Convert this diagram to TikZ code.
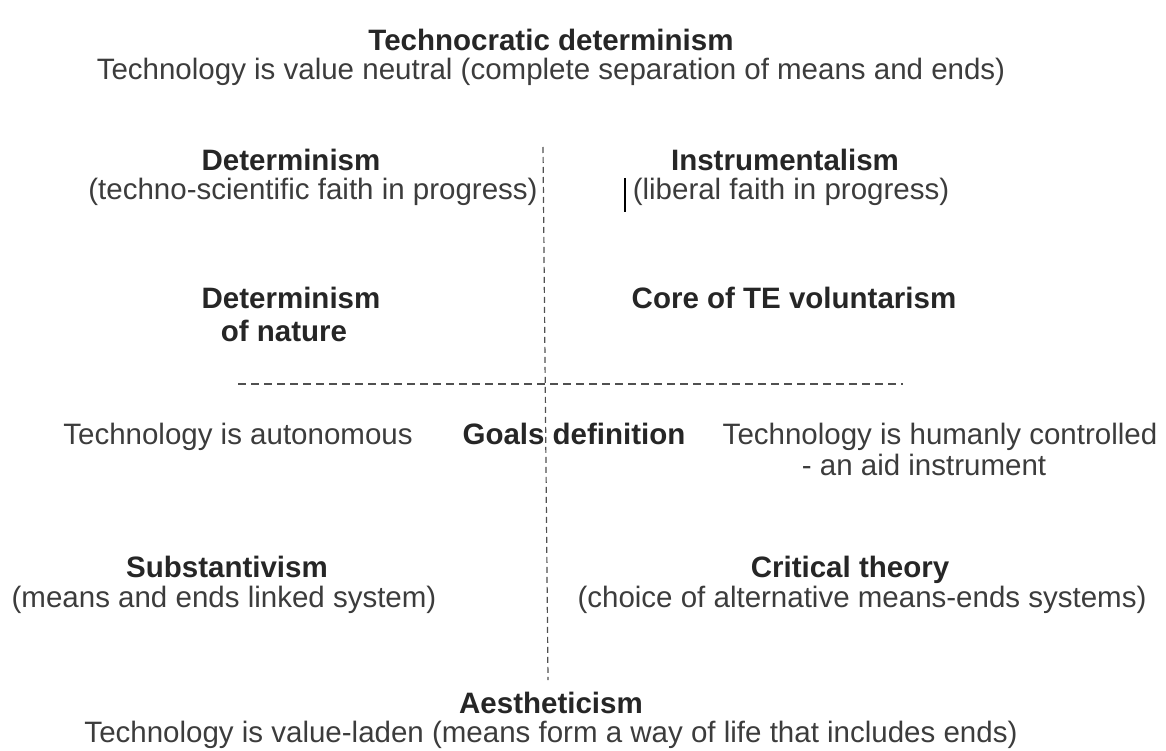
\documentclass[tikz,border=0pt]{standalone}
\usepackage{fontspec}
\setmainfont{Liberation Sans}
\usepackage{tikz}
\usetikzlibrary{positioning}
\definecolor{txtgray}{HTML}{3C3C3C}
\definecolor{headgray}{HTML}{262626}
\definecolor{linegray}{HTML}{505050}
\tikzset{
  head/.style={font=\fontsize{29.5}{32}\selectfont\bfseries, text=headgray, inner sep=0pt, anchor=base},
  note/.style={font=\fontsize{29.5}{32}\selectfont, text=txtgray, inner sep=0pt, anchor=base},
  vdivider/.style={linegray, line width=1.2pt, dash pattern=on 6pt off 4pt},
  hdivider/.style={linegray, line width=1.4pt, dash pattern=on 8pt off 5pt}
}
\begin{document}
\begin{tikzpicture}[x=1pt, y=-1pt]
  \useasboundingbox (0,0) rectangle (1166,751);
  % Top
  \node[head] (techdet) at (551,51) {Technocratic determinism};
  \node[note] (neutral) at (551,80) {Technology is value neutral (complete separation of means and ends)};
  % Upper quadrants
  \node[head] (determ) at (291,171) {Determinism};
  \node[note] (faith) at (313,200) {(techno-scientific faith in progress)};
  \node[head] (instr) at (785,171) {Instrumentalism};
  \node[note] (liberal) at (791,200) {(liberal faith in progress)};
  \coordinate (bartop) at (625,178);
  \coordinate (barbot) at (625,212);
  \draw[black, line width=1.4pt] (bartop) -- (barbot);
  \node[head] (natdet) at (291,308) {Determinism};
  \node[head] (nature) at (284,341) {of nature};
  \node[head] (core) at (794,308) {Core of TE voluntarism};
  % Middle row
  \node[note] (auto) at (238,444) {Technology is autonomous};
  \node[head] (goals) at (574,444) {Goals definition};
  \node[note] (human) at (940,444) {Technology is humanly controlled};
  \node[note] (aid) at (924,475) {- an aid instrument};
  % Lower quadrants
  \node[head] (subst) at (227,577) {Substantivism};
  \node[note] (linked) at (224,607) {(means and ends linked system)};
  \node[head] (crit) at (850,577) {Critical theory};
  \node[note] (choice) at (862,607) {(choice of alternative means-ends systems)};
  % Bottom
  \node[head] (aest) at (551,713) {Aestheticism};
  \node[note] (laden) at (551,742) {Technology is value-laden (means form a way of life that includes ends)};
  % Dashed axes
  \coordinate (vtop) at (543,147);
  \coordinate (vbot) at (548,680);
  \coordinate (hleft) at (238,384);
  \coordinate (hright) at (903,384);
  \draw[vdivider] (vtop) -- (vbot);
  \draw[hdivider] (hleft) -- (hright);
\end{tikzpicture}
\end{document}
